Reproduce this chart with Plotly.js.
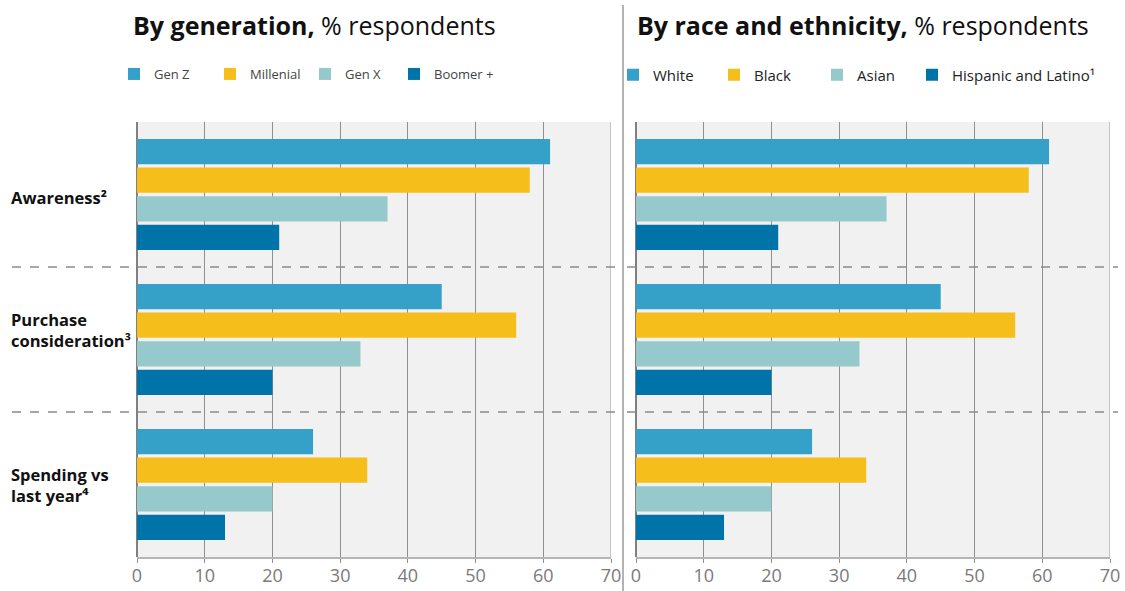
<!DOCTYPE html>
<html>
<head>
<meta charset="utf-8">
<script src="https://cdn.plot.ly/plotly-3.0.1.min.js"></script>
<style>html,body{margin:0;padding:0;background:#fff;}#chart{width:1125px;height:591px;}</style>
</head>
<body>
<div id="chart"></div>
<script>
const categories = ['Awareness', 'Purchase consideration', 'Spending vs last year'];
const categoryLabels = ['Awareness²', 'Purchase<br>consideration³', 'Spending vs<br>last year⁴'];
const tickValues = [0, 10, 20, 30, 40, 50, 60, 70];

const genNames = ['Gen Z', 'Millenial', 'Gen X', 'Boomer +'];
const genZ = [61, 45, 26];
const millenial = [58, 56, 34];
const genX = [37, 33, 20];
const boomer = [21, 20, 13];

const raceNames = ['White', 'Black', 'Asian', 'Hispanic and Latino¹'];
const white = [61, 45, 26];
const black = [58, 56, 34];
const asian = [37, 33, 20];
const hispanic = [21, 20, 13];

const colors = ['#35a0c8', '#f6be1a', '#96c9cb', '#0073a8'];

const genSeries = [genZ, millenial, genX, boomer];
const raceSeries = [white, black, asian, hispanic];

const FONT = '"Open Sans", Lato, sans-serif';
const W = 1125, H = 591, T = 122, B = 34;
const plotH = H - T - B;
const py = px => (H - B - px) / plotH;   // pixel row -> paper y
const pxx = px => px / W;                 // pixel col -> paper x

// legend text start columns (pixels) for each entry
const genLegendText = [152, 248, 343, 432];
const raceLegendText = [652, 753, 856, 951];

const traces = [];
const legends = {};
function legendKey(n) { return n === 1 ? 'legend' : 'legend' + n; }

genSeries.forEach((vals, i) => {
  const key = legendKey(i + 1);
  traces.push({
    type: 'bar', orientation: 'h', name: genNames[i],
    x: vals, y: categories, xaxis: 'x', yaxis: 'y',
    marker: {color: colors[i]}, legend: key, hoverinfo: 'x+name'
  });
  legends[key] = {x: pxx(genLegendText[i] - 38), y: py(74), xanchor: 'left', yanchor: 'middle',
    orientation: 'h', bgcolor: 'rgba(0,0,0,0)', itemclick: false, itemdoubleclick: false,
    font: {family: FONT, size: 13, color: '#444'}};
});
raceSeries.forEach((vals, i) => {
  const key = legendKey(i + 5);
  traces.push({
    type: 'bar', orientation: 'h', name: raceNames[i],
    x: vals, y: categories, xaxis: 'x2', yaxis: 'y2',
    marker: {color: colors[i]}, legend: key, hoverinfo: 'x+name'
  });
  legends[key] = {x: pxx(raceLegendText[i] - 39), y: py(75), xanchor: 'left', yanchor: 'middle',
    orientation: 'h', bgcolor: 'rgba(0,0,0,0)', itemclick: false, itemdoubleclick: false,
    font: {family: FONT, size: 15, color: '#222'}};
});

const xaxisBase = {
  range: [0, 70], tickvals: tickValues, showgrid: true, gridcolor: '#8f8f8f', gridwidth: 1,
  zeroline: true, zerolinecolor: '#808080', zerolinewidth: 1.5,
  showline: true, linecolor: '#b5b5b5', linewidth: 2,
  ticks: 'outside', ticklen: 4, tickcolor: '#8f8f8f', ticklabelstandoff: -3,
  tickfont: {family: FONT, size: 18, color: '#7a7a7a'},
  fixedrange: true
};
const yaxisBase = {
  type: 'category', autorange: 'reversed', showticklabels: false, showgrid: false,
  zeroline: false, showline: false, ticks: '', fixedrange: true
};

const annotations = [
  {xref: 'paper', yref: 'paper', x: pxx(131), y: py(25), xanchor: 'left', yanchor: 'middle',
   text: '<b>By generation,</b> % respondents', showarrow: false,
   font: {family: FONT, size: 25, color: '#111'}},
  {xref: 'paper', yref: 'paper', x: pxx(635), y: py(25), xanchor: 'left', yanchor: 'middle',
   text: '<b>By race and ethnicity,</b> % respondents', showarrow: false,
   font: {family: FONT, size: 25, color: '#111'}}
];
const labelShift = [-3, 10, 0];
categories.forEach((c, i) => {
  annotations.push({
    xref: 'paper', yref: 'y', x: pxx(9), y: c, xanchor: 'left', yanchor: 'middle',
    yshift: labelShift[i], align: 'left', showarrow: false, text: '<b>' + categoryLabels[i] + '</b>',
    font: {family: FONT, size: 16.5, color: '#111'}
  });
});

const shapes = [];
[0.5, 1.5].forEach(v => {
  shapes.push({type: 'line', xref: 'paper', yref: 'y', x0: pxx(12), x1: pxx(620), y0: v, y1: v,
    line: {color: '#8a8a8a', width: 1.3, dash: 'dash'}});
  shapes.push({type: 'line', xref: 'paper', yref: 'y2', x0: pxx(627), x1: pxx(1118), y0: v, y1: v,
    line: {color: '#8a8a8a', width: 1.3, dash: 'dash'}});
});
// plot-area right borders
shapes.push({type: 'line', xref: 'x', yref: 'paper', x0: 70, x1: 70, y0: 0, y1: 1, layer: 'below',
  line: {color: '#c4c4c4', width: 2}});
shapes.push({type: 'line', xref: 'x2', yref: 'paper', x0: 70, x1: 70, y0: 0, y1: 1, layer: 'below',
  line: {color: '#c4c4c4', width: 2}});
// panel divider
shapes.push({type: 'line', xref: 'paper', yref: 'paper', x0: pxx(623), x1: pxx(623), y0: py(591), y1: py(5),
  line: {color: '#9a9a9a', width: 1.5}});

const layout = Object.assign({
  width: W, height: H,
  margin: {l: 0, r: 0, t: T, b: B, pad: 0},
  paper_bgcolor: '#ffffff', plot_bgcolor: '#f1f1f1',
  barmode: 'group', bargap: 0.21, bargroupgap: 0.12,
  showlegend: true,
  xaxis: Object.assign({}, xaxisBase, {domain: [pxx(137), pxx(611)], anchor: 'y'}),
  yaxis: Object.assign({}, yaxisBase, {anchor: 'x'}),
  xaxis2: Object.assign({}, xaxisBase, {domain: [pxx(636), pxx(1110)], anchor: 'y2'}),
  yaxis2: Object.assign({}, yaxisBase, {anchor: 'x2'}),
  annotations: annotations,
  shapes: shapes
}, legends);

Plotly.newPlot('chart', traces, layout, {displayModeBar: false, staticPlot: true});
</script>
</body>
</html>
